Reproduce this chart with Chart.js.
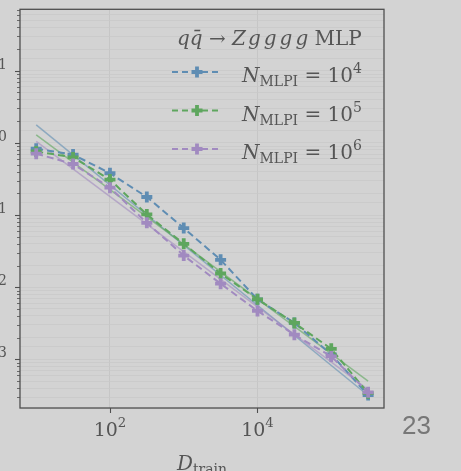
<!DOCTYPE html>
<html>
<head>
<meta charset="utf-8">
<script src="https://cdn.jsdelivr.net/npm/chart.js@4.4.0/dist/chart.umd.min.js"></script>
<style>
  body { margin: 0; background: #d3d3d3; overflow: hidden; }
  #wrap { position: relative; width: 461px; height: 471px; }
  #pageNo { position: absolute; left: 402px; top: 412px; font: 26px "Liberation Sans", Arial, sans-serif; line-height: 26px; color: #777; }
</style>
</head>
<body>
<div id="wrap">
  <canvas id="chart" width="461" height="471"></canvas>
  <div id="pageNo">23</div>
</div>
<script>
// data
const dTrain = [10, 31.6, 100, 316, 1000, 3162, 10000, 31623, 100000, 316228];
const errN4 = [0.83, 0.69, 0.38, 0.178, 0.066, 0.024, 0.0068, 0.0032, 0.00117, 0.00032];
const errN5 = [0.76, 0.63, 0.31, 0.102, 0.040, 0.0155, 0.0068, 0.0032, 0.0014, 0.00034];
const errN6 = [0.71, 0.51, 0.24, 0.078, 0.0275, 0.0112, 0.0047, 0.0022, 0.0011, 0.00035];

// power-law fits (end points)
const fitX = [10, 316228];
const fitN4 = [1.78, 0.000316];
const fitN5 = [1.29, 0.0005];
const fitN6 = [1.05, 0.00038];

const seriesNames = ['4', '5', '6'];   // exponents of N_MLPI
const xTickExps = [2, 4];
const yTickExps = [1, 0, -1, -2, -3];

const colors = ['#5f8db3', '#5ea65e', '#a18ac0'];
const fitColors = ['rgba(95,141,179,0.6)', 'rgba(94,166,94,0.6)', 'rgba(161,138,192,0.6)'];

const pts = (xs, ys) => xs.map((x, i) => ({ x: x, y: ys[i] }));

const SERIF = '"DejaVu Serif", serif';

// draws text pieces: {t, it, sup, sub, gap}
function drawRich(ctx, parts, x, y, size, align) {
  const fontOf = p => (p.it ? 'italic ' : '') + ((p.sup || p.sub) ? size * 0.7 : size) + 'px ' + SERIF;
  let total = 0;
  parts.forEach(p => { ctx.font = fontOf(p); total += ctx.measureText(p.t).width + (p.gap || 0); });
  let cx = x;
  if (align === 'center') cx = x - total / 2;
  if (align === 'right') cx = x - total;
  ctx.textAlign = 'left';
  ctx.textBaseline = 'alphabetic';
  parts.forEach(p => {
    ctx.font = fontOf(p);
    let dy = 0;
    if (p.sup) dy = -size * 0.45;
    if (p.sub) dy = size * 0.22;
    ctx.fillText(p.t, cx, y + dy);
    cx += ctx.measureText(p.t).width + (p.gap || 0);
  });
}

function drawPlus(ctx, x, y, r, color) {
  ctx.save();
  ctx.strokeStyle = color;
  ctx.lineWidth = 3.8;
  ctx.setLineDash([]);
  ctx.beginPath();
  ctx.moveTo(x - r, y); ctx.lineTo(x + r, y);
  ctx.moveTo(x, y - r); ctx.lineTo(x, y + r);
  ctx.stroke();
  ctx.restore();
}

const isDecade = v => Math.abs(Math.log10(v) - Math.round(Math.log10(v))) < 1e-6;
const isNice = v => {
  const m = v / Math.pow(10, Math.floor(Math.log10(v) + 1e-9));
  return Math.abs(m - Math.round(m)) < 1e-6;
};

const axisDecor = {
  id: 'axisDecor',
  afterDraw(chart) {
    const { ctx, chartArea: a, scales: { x, y } } = chart;
    ctx.save();
    ctx.strokeStyle = '#4f4f4f';
    ctx.lineWidth = 1.3;
    ctx.strokeRect(a.left, a.top, a.right - a.left, a.bottom - a.top);

    // y tick marks
    y.ticks.forEach(t => {
      if (!isNice(t.value)) return;
      const py = Math.round(y.getPixelForValue(t.value)) + 0.5;
      if (py < a.top || py > a.bottom) return;
      const len = isDecade(t.value) ? 5 : 3;
      ctx.lineWidth = isDecade(t.value) ? 1.1 : 0.8;
      ctx.beginPath();
      ctx.moveTo(a.left, py); ctx.lineTo(a.left - len, py);
      ctx.stroke();
    });
    // x tick marks
    ctx.lineWidth = 1.1;
    xTickExps.forEach(e => {
      const px = Math.round(x.getPixelForValue(Math.pow(10, e))) + 0.5;
      ctx.beginPath();
      ctx.moveTo(px, a.bottom); ctx.lineTo(px, a.bottom + 5);
      ctx.stroke();
    });

    ctx.fillStyle = '#555';
    xTickExps.forEach(e => {
      const px = x.getPixelForValue(Math.pow(10, e));
      drawRich(ctx, [{ t: '10' }, { t: String(e), sup: true }], px, a.bottom + 28, 19, 'center');
    });
    yTickExps.forEach(e => {
      const py = y.getPixelForValue(Math.pow(10, e));
      const lbl = e < 0 ? '\u2212' + Math.abs(e) : String(e);
      drawRich(ctx, [{ t: '10' }, { t: lbl, sup: true }], a.left - 13, py + 7, 20, 'right');
    });

    // axis label
    drawRich(ctx, [{ t: 'D', it: true }, { t: 'train', sub: true }], (a.left + a.right) / 2, a.bottom + 62, 20, 'center');

    // legend
    drawRich(ctx, [
      { t: 'q', it: true }, { t: 'q\u0304', it: true }, { t: ' \u2192 ' },
      { t: 'Z', it: true, gap: 2 }, { t: 'g', it: true, gap: 3 }, { t: 'g', it: true, gap: 3 },
      { t: 'g', it: true, gap: 3 }, { t: 'g', it: true }, { t: ' MLP' }
    ], 177, 45, 20, 'left');

    seriesNames.forEach((n, i) => {
      const ly = 72 + i * 38.5;
      ctx.strokeStyle = colors[i];
      ctx.lineWidth = 2;
      ctx.setLineDash([6, 4]);
      ctx.beginPath();
      ctx.moveTo(172, ly); ctx.lineTo(222, ly);
      ctx.stroke();
      ctx.setLineDash([]);
      drawPlus(ctx, 197, ly, 5.5, colors[i]);
      ctx.fillStyle = '#555';
      drawRich(ctx, [
        { t: 'N', it: true }, { t: 'MLPI', sub: true }, { t: ' = 10' }, { t: n, sup: true }
      ], 242, ly + 10, 20, 'left');
    });
    ctx.restore();
  }
};

const dashed = (ys, i) => ({
  data: pts(dTrain, ys),
  borderColor: colors[i],
  backgroundColor: colors[i],
  borderWidth: 2,
  borderDash: [7, 4],
  pointStyle: 'cross',
  pointRadius: 5.5,
  pointBorderWidth: 3.8,
  pointBorderColor: colors[i],
  order: 3 - i
});

const fit = (ys, i) => ({
  data: pts(fitX, ys),
  borderColor: fitColors[i],
  borderWidth: 1.5,
  pointRadius: 0,
  order: 6 - i
});

new Chart(document.getElementById('chart'), {
  type: 'line',
  data: {
    datasets: [
      dashed(errN4, 0), dashed(errN5, 1), dashed(errN6, 2),
      fit(fitN4, 0), fit(fitN5, 1), fit(fitN6, 2)
    ]
  },
  options: {
    responsive: false,
    animation: false,
    events: [],
    layout: { padding: { left: 20, top: 6, right: 77, bottom: 63 } },
    plugins: { legend: { display: false }, tooltip: { enabled: false } },
    scales: {
      x: {
        type: 'logarithmic',
        min: 6.03,
        max: 519000,
        ticks: { display: false },
        grid: {
          drawTicks: false,
          lineWidth: 0.9,
          color: c => (c.tick && xTickExps.some(e => Math.abs(Math.log10(c.tick.value) - e) < 1e-6)) ? '#c4c4c4' : 'rgba(0,0,0,0)'
        },
        border: { display: false }
      },
      y: {
        type: 'logarithmic',
        min: 0.000212,
        max: 71.1,
        ticks: { display: false },
        grid: { drawTicks: false, lineWidth: 0.8, color: '#c9c9c9' },
        border: { display: false }
      }
    }
  },
  plugins: [axisDecor]
});
</script>
</body>
</html>
